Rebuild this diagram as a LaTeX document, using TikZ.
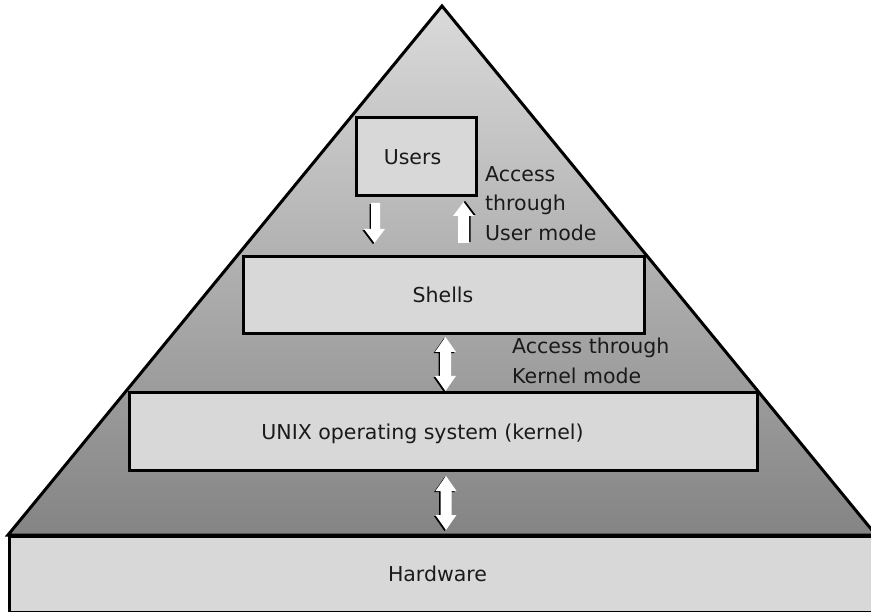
\documentclass[tikz,border=0pt]{standalone}
\usepackage{fontspec}
\setmainfont{DejaVu Sans}
\usetikzlibrary{positioning, calc}
\definecolor{pyrtop}{HTML}{DADADA}
\definecolor{pyrbot}{HTML}{848484}
\definecolor{boxfill}{HTML}{D8D8D8}
\definecolor{ink}{HTML}{1A1A1A}
\tikzset{%
	layer/.style={draw, rectangle, line width=3pt, fill=boxfill, inner sep=0pt},
	lbl/.style={anchor=base, inner sep=0pt, font=\fontsize{20.5}{25}\selectfont, text=ink},
	pyramid/.style={draw, line width=3pt, top color=pyrtop, bottom color=pyrbot},
	note/.style={align=left, anchor=north west, inner sep=0pt,%
		font=\fontsize{20.5}{29.5}\selectfont, text=ink},
	blockarrow/.style={fill=white, draw=none},
	shadowdl/.style={preaction={fill=black, transform canvas={shift={(-1.5,1.2)}}}},
	shadowur/.style={preaction={fill=black, transform canvas={shift={(1.5,-1.2)}}}}
}
\begin{document}
\begin{tikzpicture}[x=1pt, y=-1pt]
	\useasboundingbox (0,0) rectangle (871,612);
	\clip (0,0) rectangle (871,612);

	% pyramid and layers
	\coordinate (apex) at (442,6);
	\coordinate (baseL) at (8,535);
	\coordinate (baseR) at (876,535);
	\path[pyramid] (apex) -- (baseR) -- (baseL) -- cycle;

	\node[layer, minimum width=120, minimum height=78] (users) at (416,157) {};
	\node[layer, minimum width=401, minimum height=77] (shells) at (443.5,295) {};
	\node[layer, minimum width=628, minimum height=78] (kernel) at (443,432) {};
	\node[layer, minimum width=880, minimum height=76, anchor=north west] (hw) at (8,535) {};

	\node[lbl] (userstext) at (412.5,165) {Users};
	\node[lbl] (shellstext) at (443,303) {Shells};
	\node[lbl] (kerneltext) at (422.5,439) {UNIX operating system (kernel)};
	\node[lbl] (hwtext) at (437.5,581) {Hardware};

	% labels
	\node[note] (usermode) at (485,166) {Access\\through\\User mode};
	\node[note] (kernelmode) at (512,338) {Access through\\Kernel mode};

	% block arrows
	\path[blockarrow, shadowdl] (371,203) -- (380,203) -- (380,229) -- (385,229)
		-- (374.5,243) -- (364,229) -- (371,229) -- cycle;
	\path[blockarrow, shadowur] (458,243) -- (469,243) -- (469,216) -- (474,216)
		-- (463.5,202) -- (453,216) -- (458,216) -- cycle;
	\path[blockarrow, shadowdl] (445.5,337) -- (456,352) -- (451,352) -- (451,376)
		-- (456,376) -- (445.5,391) -- (435,376) -- (440,376) -- (440,352)
		-- (435,352) -- cycle;
	\path[blockarrow, shadowdl] (446,476) -- (456.5,491) -- (451.5,491) -- (451.5,515)
		-- (456.5,515) -- (446,530) -- (435.5,515) -- (440.5,515) -- (440.5,491)
		-- (435.5,491) -- cycle;
\end{tikzpicture}
\end{document}
